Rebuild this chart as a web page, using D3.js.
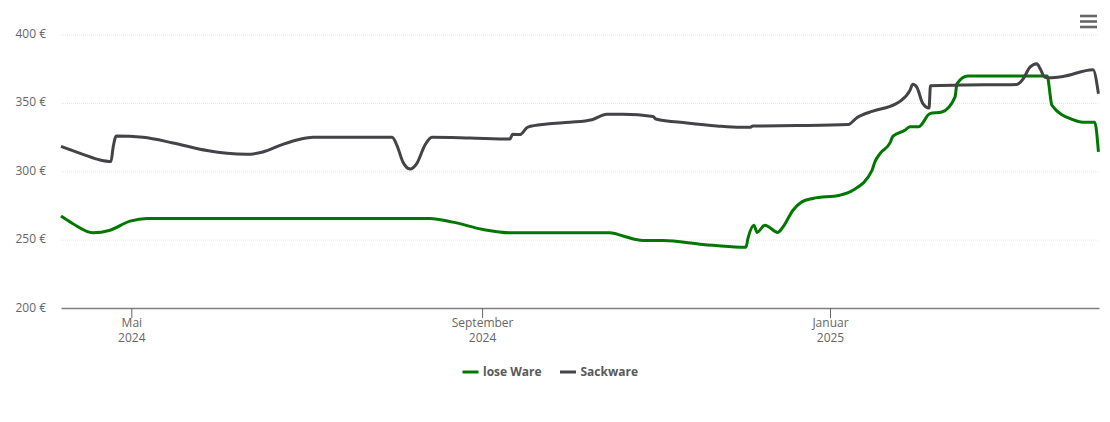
<!DOCTYPE html>
<html>
<head>
<meta charset="utf-8">
<script src="https://cdn.jsdelivr.net/npm/d3@7"></script>
<style>
  html, body { margin: 0; padding: 0; background: #fff; }
  text { font-family: "Open Sans", sans-serif; }
</style>
</head>
<body>
<svg id="chart" width="1110" height="422"></svg>
<script>
// [days since start of the chart, price in euro]
var startDate = Date.UTC(2024, 3, 6, 8);
var series = [
  { name: "lose Ware", color: "#007800", values: [
    [0,267.2],[3.9,262],[11.2,255],[17.2,256.9],[24.2,263.5],[30.2,265.5],[108.3,265.5],
    [129.4,265.5],[137.4,262.8],[148,257.4],[157.4,255],[192.5,255],[197.1,252.6],[204.1,249.4],[211.1,249.4],
    [225.1,246.5],[238.1,244.5],[240.2,244.5],[240.9,250.9],[243,260.6],[244.1,255.3],[246.8,260.6],[251.4,255.3],
    [253.2,259.3],[256.7,271.5],[259.8,277.6],[263.7,280.1],[273.1,282.5],[277.7,286.1],[284.4,300.7],[285.4,306.8],
    [287.2,312.9],[290.7,320.7],[291.7,325.5],[295.9,329.9],[297.7,332.6],[300.8,332.6],[304.7,342.1],[308.9,343.3],[313.5,354.2],
    [314.2,364],[318,369.6],[345.8,369.6],[347.5,348.2],[354.8,337.7],[358.3,335.8],[362.5,335.8],[363.8,314.1]
  ]},
  { name: "Sackware", color: "#434348", values: [
    [0,318.2],[7.7,312.4],[13.7,308.2],[17.5,307.1],[18.3,317.7],[19.4,325.8],[28.8,324.8],[39.3,320.7],
    [51.2,315.1],[58.2,313.1],[65.2,312.4],[70.8,314.1],[77.8,319.7],[83.8,323.4],[88.4,324.8],[108.3,324.8],
    [116.1,324.8],[117.8,319],[119.9,306.8],[122.4,301.7],[124.8,305.8],[127.6,319],[130.1,324.8],[143.4,324.3],
    [157.4,323.6],[158.4,327],[160.9,326.8],[163.7,332.3],[170.4,334.5],[178.5,335.8],[186.2,337.7],[191.4,341.6],
    [197.1,341.6],[207.6,340.1],[208.6,338.2],[219.5,335.3],[230,333.1],[238.1,332.1],[241.6,332.1],[242.6,333.1],
    [258.1,333.4],[276,334.1],[279.1,339.2],[284.7,344],[292.4,348.9],[294.2,351.1],[297.7,359.1],[298.7,363.7],
    [300.1,361.5],[302.2,349.6],[304.4,346.2],[304.9,362.6],[316.3,363],[335.2,363.5],[337.3,367.2],[339.8,376.1],
    [342.2,378.6],[343.3,375.2],[345,368.8],[346.8,368.4],[351.3,369.3],[361.9,374.2],[363.8,356.7]
  ]}
];

function toDate(day) {
  return new Date(startDate + day * 864e5);
}

var svg = d3.select("#chart");
var x = d3.scaleUtc().domain([toDate(0), toDate(364)]).range([61, 1099]);
var y = d3.scaleLinear().domain([200, 400]).range([308, 34.5]);

// grid
svg.append("g").selectAll("line")
  .data([250, 300, 350, 400])
  .enter().append("line")
  .attr("x1", 61).attr("x2", 1099)
  .attr("y1", function(d) { return y(d) + 0.5; })
  .attr("y2", function(d) { return y(d) + 0.5; })
  .attr("stroke", "#e6e6e6")
  .attr("stroke-dasharray", "1,1");

// y axis
var yAxis = svg.append("g")
  .attr("transform", "translate(46,0)")
  .call(d3.axisLeft(y).tickValues([200, 250, 300, 350, 400]).tickSize(0).tickPadding(0)
    .tickFormat(function(d) { return d + " €"; }));
yAxis.select(".domain").remove();
yAxis.selectAll("text")
  .attr("font-size", 12)
  .attr("fill", "#666")
  .attr("dy", "0.25em")
  .style("font-family", '"Open Sans", sans-serif');

// x axis
var xTicks = [
  { date: new Date(Date.UTC(2024, 4, 1)), lines: ["Mai", "2024"] },
  { date: new Date(Date.UTC(2024, 8, 1)), lines: ["September", "2024"] },
  { date: new Date(Date.UTC(2025, 0, 1)), lines: ["Januar", "2025"] }
];
var xAxis = svg.append("g")
  .attr("transform", "translate(0,308)")
  .call(d3.axisBottom(x)
    .tickValues(xTicks.map(function(t) { return t.date; }))
    .tickSize(10).tickSizeOuter(0).tickFormat(""));
xAxis.select(".domain").attr("stroke", "#7f7f7f").attr("stroke-width", 1.4);
xAxis.selectAll("line").attr("stroke", "#666");
xAxis.selectAll(".tick").each(function(d, i) {
  var t = d3.select(this).select("text")
    .attr("y", 0).attr("dy", null)
    .attr("font-size", 12).attr("fill", "#666")
    .style("font-family", '"Open Sans", sans-serif');
  t.selectAll("tspan").data(xTicks[i].lines).enter().append("tspan")
    .attr("x", 0)
    .attr("y", function(l, j) { return 19 + j * 15; })
    .text(function(l) { return l; });
});

// lines
var line = d3.line()
  .x(function(d) { return x(toDate(d[0])); })
  .y(function(d) { return y(d[1]); })
  .curve(d3.curveMonotoneX);

svg.selectAll(".series")
  .data(series)
  .enter().append("path")
  .attr("class", "series")
  .attr("fill", "none")
  .attr("stroke", function(d) { return d.color; })
  .attr("stroke-width", 3)
  .attr("stroke-linejoin", "round")
  .attr("stroke-linecap", "butt")
  .attr("d", function(d) { return line(d.values); });

// legend
var legendX = [462, 559.5];
var legend = svg.selectAll(".legend")
  .data(series)
  .enter().append("g")
  .attr("class", "legend")
  .attr("transform", function(d, i) { return "translate(" + legendX[i] + ",372)"; });
legend.append("line")
  .attr("x1", 0.5).attr("x2", 16.5)
  .attr("stroke", function(d) { return d.color; })
  .attr("stroke-width", 3);
legend.append("text")
  .attr("x", 21).attr("y", 4)
  .attr("font-size", 12)
  .attr("font-weight", "bold")
  .attr("fill", "#595959")
  .text(function(d) { return d.name; });

// menu button
svg.append("g").selectAll("line")
  .data([16, 21.5, 27])
  .enter().append("line")
  .attr("x1", 1080).attr("x2", 1097)
  .attr("y1", function(d) { return d; })
  .attr("y2", function(d) { return d; })
  .attr("stroke", "#666")
  .attr("stroke-width", 2.6);
</script>
</body>
</html>
